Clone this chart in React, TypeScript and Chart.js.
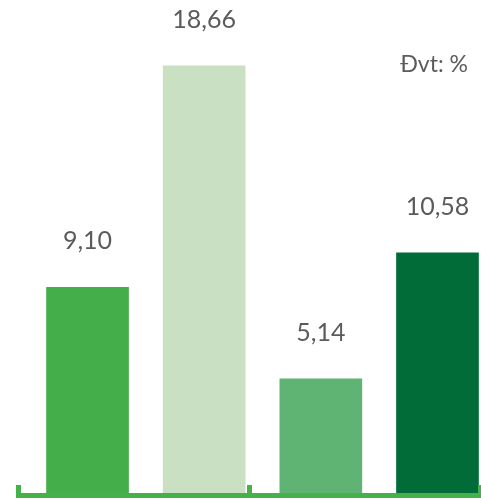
import React, { useEffect, useRef } from "react";
import { Chart, registerables } from "chart.js";

Chart.register(...registerables);

const categories = ["Cột 1", "Cột 2", "Cột 3", "Cột 4"];
const values = [9.1, 18.66, 5.14, 10.58];
const valueLabels = ["9,10", "18,66", "5,14", "10,58"];
const barColors = ["#44ae4a", "#c9e0c3", "#5fb373", "#016c38"];
const unitLabel = "Đvt: %";

const axisColor = "#46b04b";
const textColor = "#5b5b5b";

const decorPlugin = {
  id: "decor",
  afterDatasetsDraw(chart: any) {
    const { ctx, chartArea } = chart;
    const meta = chart.getDatasetMeta(0);
    ctx.save();
    // value labels
    ctx.fillStyle = textColor;
    ctx.font = "25px Lato";
    ctx.textAlign = "center";
    ctx.textBaseline = "middle";
    meta.data.forEach((bar: any, i: number) => {
      ctx.fillText(valueLabels[i], bar.x, bar.y - 46);
    });
    // unit label
    ctx.font = "23px Lato";
    ctx.textAlign = "right";
    ctx.fillText(unitLabel, chartArea.right - 13, 65);
    // baseline with tick marks
    const b = chartArea.bottom;
    ctx.fillStyle = axisColor;
    ctx.fillRect(chartArea.left - 2, b - 5, chartArea.right - chartArea.left + 2, 5);
    const mid = (chartArea.left + chartArea.right) / 2;
    [chartArea.left - 2, mid - 2.5, chartArea.right - 3].forEach((x) => {
      ctx.fillRect(x, b - 13, 5, 13);
    });
    ctx.restore();
  },
};

export default function App() {
  const ref = useRef<HTMLCanvasElement | null>(null);

  useEffect(() => {
    if (!ref.current) return;
    const chart = new Chart(ref.current, {
      type: "bar",
      data: {
        labels: categories,
        datasets: [
          {
            label: "Giá trị",
            data: values.map((v, i) => ({ x: i, y: v })) as any,
            backgroundColor: barColors,
            borderWidth: 0,
            barThickness: 82,
          },
        ],
      },
      options: {
        responsive: false,
        animation: false,
        devicePixelRatio: 1,
        layout: { padding: { left: 18, right: 0, top: 0, bottom: 4 } },
        scales: {
          x: {
            type: "linear",
            min: -0.596,
            max: 3.373,
            offset: false,
            display: false,
            ticks: { stepSize: 1, includeBounds: false },
          },
          y: { min: 0, max: 21.5, display: false },
        },
        plugins: {
          legend: { display: false },
          tooltip: { enabled: false },
        },
        events: [],
      },
      plugins: [decorPlugin],
    });
    return () => chart.destroy();
  }, []);

  return (
    <div style={{ position: "absolute", left: 0, top: 0, width: 481, height: 502, background: "#fff" }}>
      <canvas ref={ref} width={481} height={502} style={{ display: "block" }} />
    </div>
  );
}
